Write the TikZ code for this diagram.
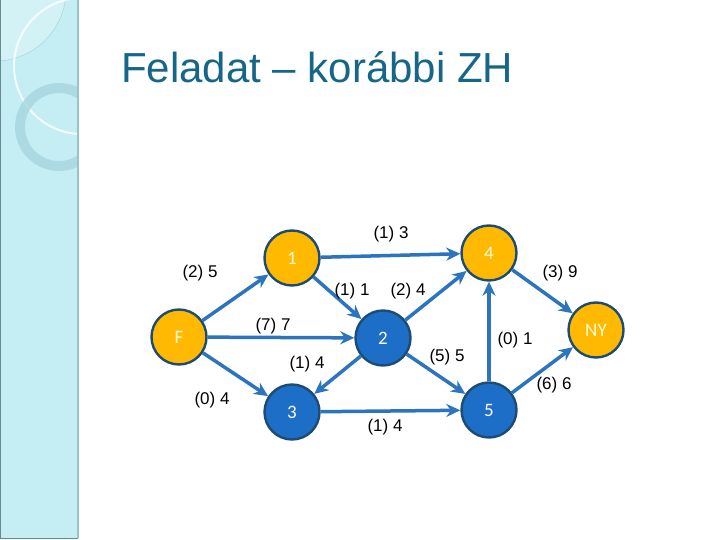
\documentclass[tikz,border=0pt]{standalone}
\usepackage{fontspec}
\setmainfont{Liberation Sans}
\newfontfamily\carlito{Carlito}
\usetikzlibrary{arrows.meta}
\definecolor{gold}{RGB}{255,185,0}
\definecolor{nodeblue}{RGB}{28,110,198}
\definecolor{rim}{RGB}{28,76,118}
\definecolor{edgeblue}{RGB}{44,116,190}
\definecolor{titleblue}{RGB}{22,102,135}
\definecolor{band}{RGB}{196,238,243}
\definecolor{bandedge}{RGB}{150,196,200}
\definecolor{ring}{RGB}{168,214,222}

\tikzset{
  vtx/.style={circle, draw=rim, line width=2.4pt, minimum size=55pt, inner sep=0pt,
    font=\carlito\fontsize{19}{19}\selectfont},
  yel/.style={vtx, fill=gold, text=white!85!yellow},
  blu/.style={vtx, fill=nodeblue, text=white},
  arc/.style={-{Stealth[length=14pt,width=13pt]}, line width=3.5pt, draw=edgeblue},
  lbl/.style={font=\fontsize{17}{17}\selectfont}
}

\begin{document}
\begin{tikzpicture}[x=1pt, y=-1pt]
  \useasboundingbox (0,0) rectangle (720,540);
  \fill[white] (0,0) rectangle (720,540);

  % left band
  \fill[band] (0,0) rectangle (78,538);
  \begin{scope}
    \clip (0,0) rectangle (78,538);
    \fill[white, opacity=0.25] (-5,-10) circle (71);
    \draw[bandedge, opacity=0.6, line width=0.5pt] (-5,-10) circle (71);
    \draw[white, opacity=0.8, line width=2pt] (82,66) circle (68);
    \draw[ring, opacity=0.8, line width=10pt] (59,127) circle (39);
  \end{scope}
  \draw[bandedge, line width=1.5pt] (78,0) -- (78,538);
  \draw[bandedge!70!black, line width=1pt] (0.5,0) -- (0.5,538) -- (78,538);

  % title
  \node[anchor=base west, inner sep=0pt, text=titleblue, font=\fontsize{42}{42}\selectfont]
    (title) at (121,83) {Feladat – korábbi ZH};

  % vertices
  \node[yel] (F)  at (179,337) {F};
  \node[yel] (v1) at (292,258) {1};
  \node[blu] (v2) at (383,338) {2};
  \node[blu] (v3) at (292,412) {3};
  \node[yel] (v4) at (489,253) {4};
  \node[blu] (v5) at (489,410) {5};
  \node[yel] (NY) at (596,330) {NY};

  % edges
  \draw[arc] (F) -- (v1);
  \draw[arc] (F) -- (v2);
  \draw[arc] (F) -- (v3);
  \draw[arc] (v1) -- (v4);
  \draw[arc] (v1) -- (v2);
  \draw[arc] (v2) -- (v3);
  \draw[arc] (v2) -- (v4);
  \draw[arc] (v2) -- (v5);
  \draw[arc] (v3) -- (v5);
  \draw[arc] (v5) -- (v4);
  \draw[arc] (v4) -- (NY);
  \draw[arc] (v5) -- (NY);

  % edge labels
  \node[lbl] (l14)  at (391,234) {(1) 3};
  \node[lbl] (lF1)  at (200,273) {(2) 5};
  \node[lbl] (l12)  at (352,291) {(1) 1};
  \node[lbl] (l24)  at (408,291) {(2) 4};
  \node[lbl] (lF2)  at (273,326) {(7) 7};
  \node[lbl] (l23)  at (307,364) {(1) 4};
  \node[lbl] (lF3)  at (212,400) {(0) 4};
  \node[lbl] (l35)  at (385,427) {(1) 4};
  \node[lbl] (l4NY) at (560,273) {(3) 9};
  \node[lbl] (l54)  at (515,340) {(0) 1};
  \node[lbl] (l25)  at (447,357) {(5) 5};
  \node[lbl] (l5NY) at (554,385) {(6) 6};
\end{tikzpicture}
\end{document}
